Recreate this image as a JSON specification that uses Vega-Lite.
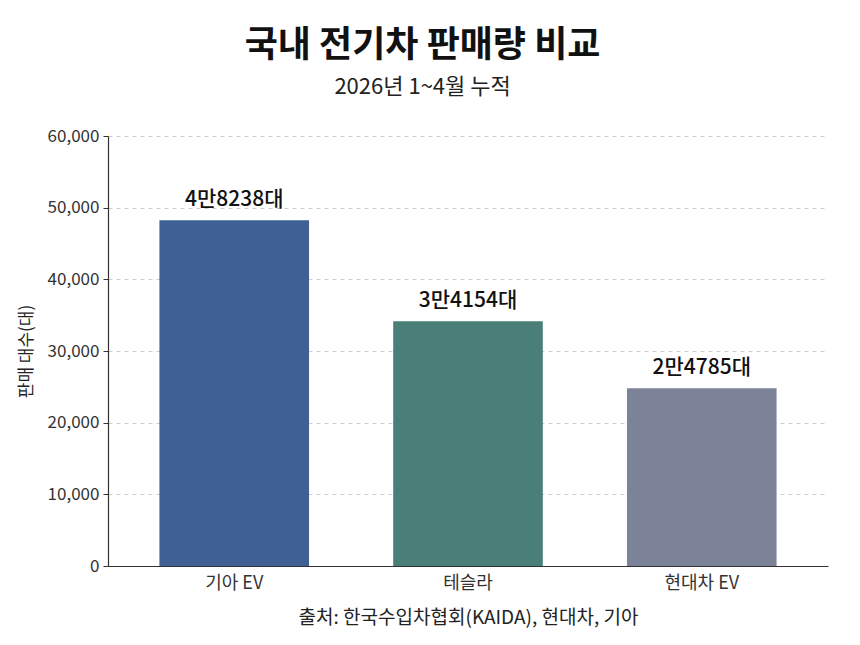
{
  "$schema": "https://vega.github.io/schema/vega-lite/v6.json",
  "width": 860,
  "height": 645,
  "autosize": {"type": "fit", "contains": "padding"},
  "padding": {"left": 17, "right": 32, "top": 28, "bottom": 18},
  "background": "white",
  "data": {
    "values": [
      {"brand": "기아 EV", "sales": 48238, "label": "4만8238대"},
      {"brand": "테슬라", "sales": 34154, "label": "3만4154대"},
      {"brand": "현대차 EV", "sales": 24785, "label": "2만4785대"}
    ]
  },
  "title": {
    "text": "국내 전기차 판매량 비교",
    "subtitle": "2026년 1~4월 누적",
    "font": "Noto Sans CJK KR",
    "subtitleFont": "Noto Sans CJK KR",
    "fontSize": 36,
    "fontWeight": "bold",
    "color": "#111111",
    "subtitleFontSize": 22,
    "subtitleColor": "#222222",
    "subtitlePadding": 12,
    "anchor": "middle",
    "frame": "bounds",
    "offset": 28
  },
  "config": {
    "view": {"stroke": null},
    "font": "Noto Sans CJK KR",
    "axis": {
      "labelFont": "Noto Sans CJK KR",
      "titleFont": "Noto Sans CJK KR",
      "labelFontSize": 17,
      "labelColor": "#333333",
      "titleFontSize": 17,
      "titleFontWeight": "normal",
      "titleColor": "#222222",
      "domainColor": "#333333",
      "tickColor": "#333333",
      "domainWidth": 1.2
    }
  },
  "layer": [
    {
      "mark": {"type": "bar"},
      "encoding": {
        "x": {
          "field": "brand",
          "type": "nominal",
          "sort": null,
          "scale": {"paddingInner": 0.36, "paddingOuter": 0.22},
          "axis": {
            "labelAngle": 0,
            "ticks": false,
            "labelPadding": 8,
            "labelFontSize": 18,
            "title": "출처: 한국수입차협회(KAIDA), 현대차, 기아",
            "titlePadding": 16,
            "titleFontSize": 19
          }
        },
        "y": {
          "field": "sales",
          "type": "quantitative",
          "scale": {"domain": [0, 60000]},
          "axis": {
            "title": "판매 대수(대)",
            "values": [0, 10000, 20000, 30000, 40000, 50000, 60000],
            "format": ",.0f",
            "labelOverlap": false,
            "grid": true,
            "gridDash": [4, 4],
            "gridColor": "#cccccc",
            "tickSize": 5,
            "labelPadding": 4,
            "titlePadding": 12
          }
        },
        "color": {
          "field": "brand",
          "type": "nominal",
          "scale": {
            "domain": ["기아 EV", "테슬라", "현대차 EV"],
            "range": ["#3e6094", "#4a7e79", "#7c8399"]
          },
          "legend": null
        }
      }
    },
    {
      "mark": {
        "type": "text",
        "baseline": "bottom",
        "dy": -10,
        "fontSize": 21,
        "fontWeight": 500,
        "color": "#111111"
      },
      "encoding": {
        "x": {"field": "brand", "type": "nominal", "sort": null},
        "y": {"field": "sales", "type": "quantitative"},
        "text": {"field": "label"}
      }
    }
  ]
}
